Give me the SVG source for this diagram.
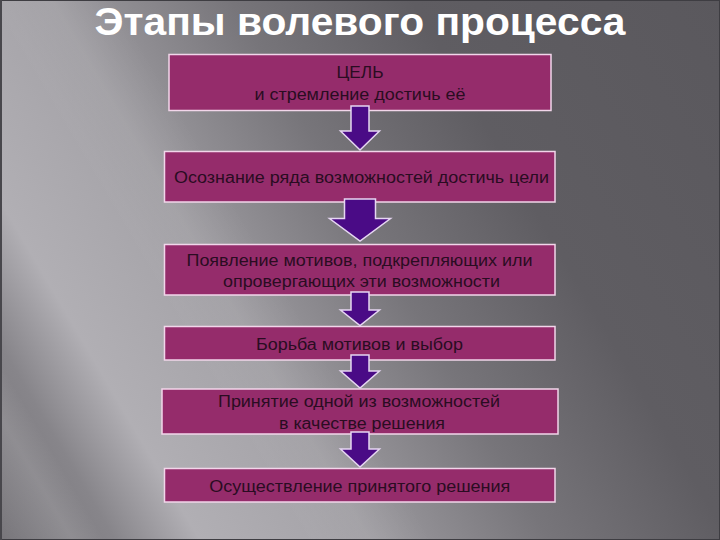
<svg xmlns="http://www.w3.org/2000/svg" width="720" height="540" viewBox="0 0 720 540">
  <defs>
    <linearGradient id="bg" gradientUnits="userSpaceOnUse" x1="0" y1="560" x2="786.6" y2="97.3">
      <stop offset="0" stop-color="#737176"/>
      <stop offset="0.12" stop-color="#87858a"/>
      <stop offset="0.2" stop-color="#b1afb4"/>
      <stop offset="0.31" stop-color="#a8a6ab"/>
      <stop offset="0.53" stop-color="#77757a"/>
      <stop offset="0.7" stop-color="#5f5d62"/>
      <stop offset="1" stop-color="#5a585d"/>
    </linearGradient>
    <linearGradient id="streak" gradientUnits="userSpaceOnUse" x1="0" y1="560" x2="786.6" y2="97.3">
      <stop offset="0" stop-color="#ffffff" stop-opacity="0"/>
      <stop offset="0.08" stop-color="#ffffff" stop-opacity="0.12"/>
      <stop offset="0.11" stop-color="#ffffff" stop-opacity="0"/>
      <stop offset="0.3" stop-color="#ffffff" stop-opacity="0"/>
      <stop offset="0.36" stop-color="#ffffff" stop-opacity="0.08"/>
      <stop offset="0.42" stop-color="#ffffff" stop-opacity="0"/>
      <stop offset="1" stop-color="#ffffff" stop-opacity="0"/>
    </linearGradient>
  </defs>
  <style>
    .box { fill: #952c6b; stroke: #f2d6ea; stroke-width: 1.5; }
    .lbl { font-family: "Liberation Sans", Arial, sans-serif; font-size: 16px; fill: #2a0c22; text-anchor: middle; }
    .arr { fill: #4a0b86; stroke: #e6d6f2; stroke-width: 1.5; stroke-linejoin: miter; }
    .title { font-family: "Liberation Sans", Arial, sans-serif; font-size: 38px; font-weight: bold; fill: #ffffff; text-anchor: middle; }
  </style>

  <rect x="0" y="0" width="720" height="540" fill="url(#bg)"/>
  <rect x="0" y="0" width="720" height="540" fill="url(#streak)"/>
  <rect x="0.5" y="0.5" width="719" height="539" fill="none" stroke="#3e3d42" stroke-width="1"/>
  <rect x="0" y="0" width="2" height="540" fill="#48474c"/>

  <text id="title" class="title" x="360" y="35" textLength="531" lengthAdjust="spacingAndGlyphs">Этапы волевого процесса</text>

  <g id="node1">
    <rect class="box" x="169" y="54.5" width="382" height="56"/>
    <text class="lbl" x="360" y="77.5" textLength="47" lengthAdjust="spacingAndGlyphs">ЦЕЛЬ</text>
    <text class="lbl" x="360" y="99.5" textLength="211" lengthAdjust="spacingAndGlyphs">и стремление достичь её</text>
  </g>
  <g id="node2">
    <rect class="box" x="164.5" y="151.5" width="390.5" height="50.5"/>
    <text class="lbl" x="361.5" y="182.5" textLength="375" lengthAdjust="spacingAndGlyphs">Осознание ряда возможностей достичь цели</text>
  </g>
  <g id="node3">
    <rect class="box" x="164.5" y="244.5" width="390.5" height="50.5"/>
    <text class="lbl" x="359.5" y="265.5" textLength="346" lengthAdjust="spacingAndGlyphs">Появление мотивов, подкрепляющих или</text>
    <text class="lbl" x="361.5" y="287" textLength="277" lengthAdjust="spacingAndGlyphs">опровергающих эти возможности</text>
  </g>
  <g id="node4">
    <rect class="box" x="164.5" y="326.5" width="390.5" height="33.5"/>
    <text class="lbl" x="359.5" y="350" textLength="207" lengthAdjust="spacingAndGlyphs">Борьба мотивов и выбор</text>
  </g>
  <g id="node5">
    <rect class="box" x="162" y="389" width="396" height="45"/>
    <text class="lbl" x="359" y="407" textLength="282" lengthAdjust="spacingAndGlyphs">Принятие одной из возможностей</text>
    <text class="lbl" x="362" y="428.5" textLength="166" lengthAdjust="spacingAndGlyphs">в качестве решения</text>
  </g>
  <g id="node6">
    <rect class="box" x="164.5" y="468.5" width="390.5" height="33.5"/>
    <text class="lbl" x="359.8" y="491.5" textLength="301" lengthAdjust="spacingAndGlyphs">Осуществление принятого решения</text>
  </g>

  <g id="connectors">
    <path class="arr" d="M351,106 H369 V131 H379.5 L360,150 L340.5,131 H351 Z"/>
    <path class="arr" d="M344.5,199 H375.5 V218.5 H390.5 L360,241 L329.5,218.5 H344.5 Z"/>
    <path class="arr" d="M351,292 H369 V310 H379.5 L360,325.5 L340.5,310 H351 Z"/>
    <path class="arr" d="M351,355 H369 V371 H379.5 L360,388 L340.5,371 H351 Z"/>
    <path class="arr" d="M351,432 H369 V449 H379.5 L360,467 L340.5,449 H351 Z"/>
  </g>
</svg>
